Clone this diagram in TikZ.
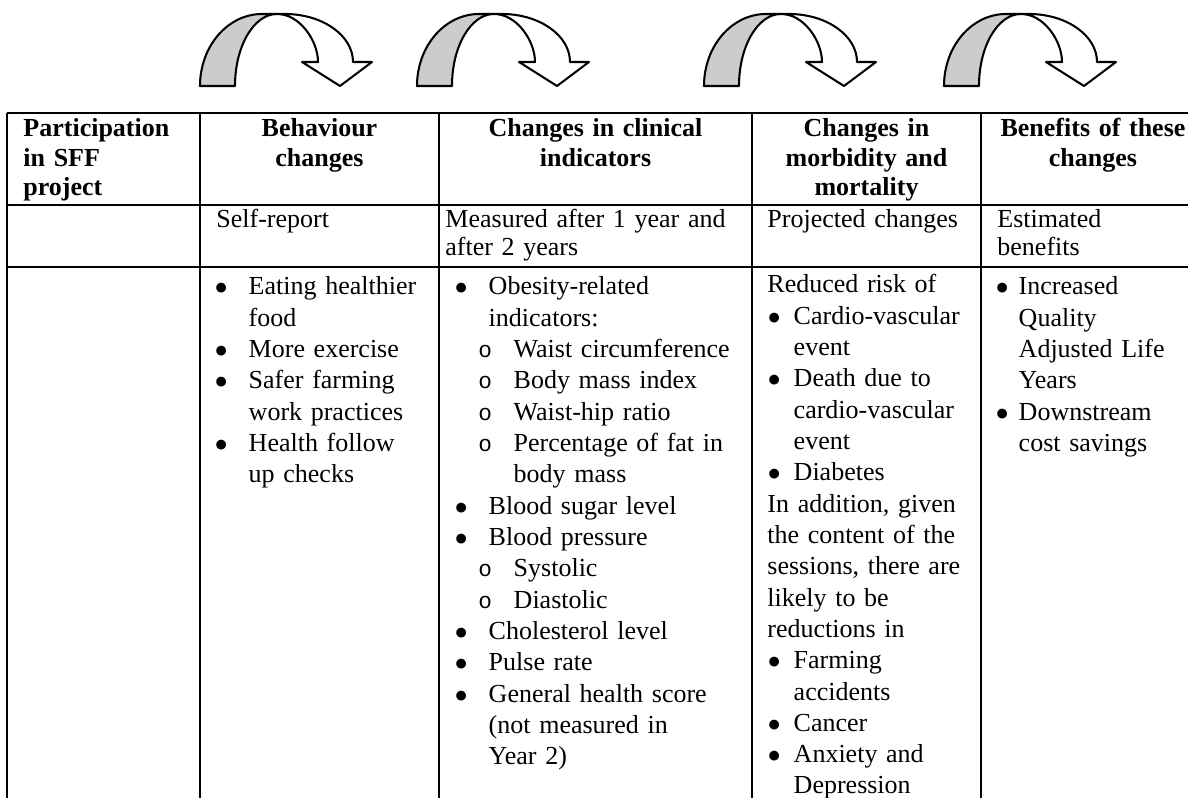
\documentclass[tikz,border=0pt]{standalone}
\usepackage{fontspec}
\setmainfont{Liberation Serif}
\newfontfamily\courfont{Liberation Mono}

\newdimen\pxu
\pxu=0.4615pt
\newcommand{\bul}[1]{\makebox[#1\pxu][l]{\hspace*{-1pt}\fontsize{10.5}{10.5}\selectfont ●}}
\newcommand{\subbul}[1]{\makebox[#1\pxu][l]{\hspace*{0.6pt}\courfont\fontsize{10.5}{10.5}\selectfont o}}
\newcommand{\indpx}[1]{\hspace*{#1\pxu}}

\tikzset{
  hcell/.style={inner sep=0pt, anchor=base, align=center, text width=130pt,
    font={\fontsize{12}{13.4}\selectfont\bfseries}},
  mcell/.style={inner sep=0pt, anchor=base west, align=left, text width=150pt,
    font={\fontsize{12}{12.8}\selectfont}},
  lcell/.style={inner sep=0pt, anchor=base west, align=left, text width=150pt,
    font={\fontsize{12}{14.45}\selectfont}},
  rule/.style={line width=0.95pt},
  arrowback/.style={draw=black, fill=gray!40, line width=0.95pt, line join=round},
  arrowfront/.style={draw=black, fill=white, line width=0.95pt, line join=round}
}

\begin{document}
\begin{tikzpicture}[x=0.4615pt,y=-0.4615pt]
\fill[white] (0,0) rectangle (1188,798);
\useasboundingbox (0,0) rectangle (1188,798);
\clip (0,0) rectangle (1188,798);

% bent arrows over the table
\foreach \ax in {200,417,704,944}{
  \begin{scope}[shift={(\ax,86)},yscale=-1]
    \filldraw[arrowfront] (77,72) -- (85,72) .. controls (122.6,72) and (153,50.5) .. (153,24)
      -- (172,24) -- (140,0) -- (102,24) -- (118,24) .. controls (118,45) and (100,72) .. (77,72) -- cycle;
    \filldraw[arrowback] (0,0) .. controls (0,39.8) and (27.8,72) .. (62,72) -- (77,72)
      .. controls (53.8,72) and (35,39.8) .. (35,0) -- cycle;
  \end{scope}
}

% table rules
\draw[rule] (7,113) -- (1200,113);
\draw[rule] (7,205) -- (1200,205);
\draw[rule] (7,267) -- (1200,267);
\foreach \cx in {7,200,439,752,981}
  \draw[rule] (\cx,113) -- (\cx,800);

% header row
\node[hcell,anchor=base west,align=left,text width=80pt] (hpart) at (23,137) {Participation\\in SFF\\project};
\node[hcell] (hbehav) at (319.5,137) {Behaviour\\changes};
\node[hcell] (hclin) at (595.5,137) {Changes in clinical\\indicators};
\node[hcell] (hmorb) at (866.5,137) {Changes in\\morbidity and\\mortality};
\node[hcell] (hbene) at (1093,137) {Benefits of these\\changes};

% how measured
\node[mcell] (mbehav) at (216,228) {Self-report};
\node[mcell] (mclin) at (445,228) {Measured after 1 year and\\after 2 years};
\node[mcell] (mmorb) at (767,228) {Projected changes};
\node[mcell] (mbene) at (997,228) {Estimated\\benefits};

% lists
\node[lcell] (lbehav) at (216,295) {\bul{32.3}Eating healthier\\\indpx{32.3}food\\\bul{32.3}More exercise\\
  \bul{32.3}Safer farming\\\indpx{32.3}work practices\\\bul{32.3}Health follow\\\indpx{32.3}up checks};
\node[lcell] (lclin) at (456,295) {\bul{32.3}Obesity-related\\\indpx{32.3}indicators:\\
  \indpx{20.7}\subbul{36.6}Waist circumference\\\indpx{20.7}\subbul{36.6}Body mass index\\
  \indpx{20.7}\subbul{36.6}Waist-hip ratio\\\indpx{20.7}\subbul{36.6}Percentage of fat in\\
  \indpx{57.3}body mass\\\bul{32.3}Blood sugar level\\\bul{32.3}Blood pressure\\
  \indpx{20.7}\subbul{36.6}Systolic\\\indpx{20.7}\subbul{36.6}Diastolic\\
  \bul{32.3}Cholesterol level\\\bul{32.3}Pulse rate\\\bul{32.3}General health score\\
  \indpx{32.3}(not measured in\\\indpx{32.3}Year 2)};
\node[lcell] (lmorb) at (767,293) {Reduced risk of\\\indpx{2}\bul{24.3}Cardio-vascular\\\indpx{26.3}event\\
  \indpx{2}\bul{24.3}Death due to\\\indpx{26.3}cardio-vascular\\\indpx{26.3}event\\
  \indpx{2}\bul{24.3}Diabetes\\In addition, given\\the content of the\\sessions, there are\\
  likely to be\\reductions in\\\indpx{2}\bul{24.3}Farming\\\indpx{26.3}accidents\\
  \indpx{2}\bul{24.3}Cancer\\\indpx{2}\bul{24.3}Anxiety and\\\indpx{26.3}Depression};
\node[lcell] (lbene) at (997,295) {\bul{21.3}Increased\\\indpx{21.3}Quality\\\indpx{21.3}Adjusted Life\\
  \indpx{21.3}Years\\\bul{21.3}Downstream\\\indpx{21.3}cost savings};
\end{tikzpicture}
\end{document}
